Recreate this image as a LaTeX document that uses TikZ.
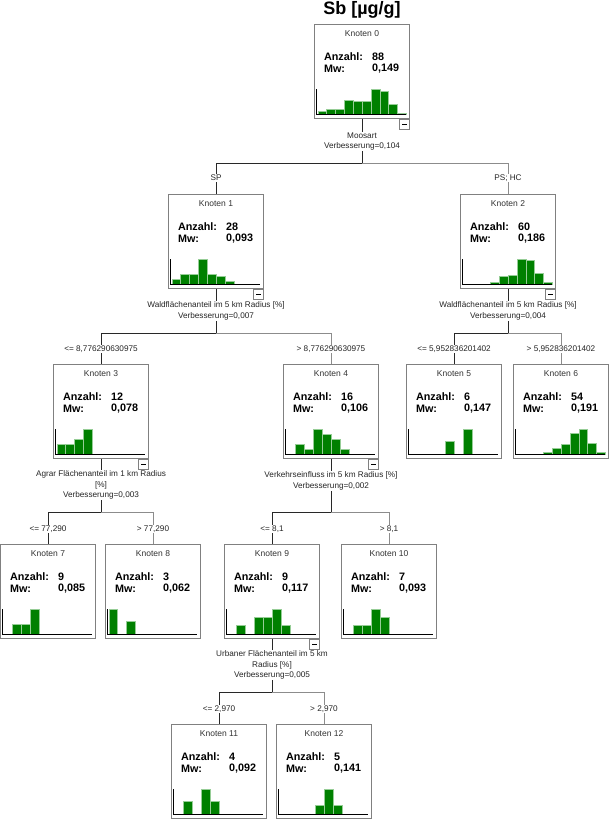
\documentclass[tikz,border=0pt]{standalone}
\usepackage{fontspec}
\setmainfont{Liberation Sans}
\usetikzlibrary{calc}
\definecolor{barfill}{RGB}{0,128,0}
\definecolor{baredge}{RGB}{150,205,150}
\definecolor{boxgray}{RGB}{128,128,128}
\definecolor{darkline}{RGB}{40,40,40}
\definecolor{lightline}{RGB}{140,140,140}
\tikzset{
 kbox/.style={draw=boxgray, line width=1.3pt, fill=white, minimum width=95pt, minimum height=94pt, inner sep=0pt, anchor=north},
 ktitle/.style={font=\fontsize{8.5}{10}\selectfont, text=black!80, inner sep=0pt},
 kbold/.style={font=\fontsize{10.8}{12}\selectfont\bfseries, inner sep=0pt, anchor=west},
 lbl/.style={font=\fontsize{8.2}{10.3}\selectfont, text=black!85, fill=white, inner sep=1pt, align=center},
 minusbox/.style={draw=boxgray, line width=0.9pt, fill=white, minimum size=10pt, inner sep=0pt, anchor=north east},
 axisline/.style={draw=black, line width=1pt},
 bar/.style={fill=barfill, draw=baredge, line width=0.5pt},
 lineL/.style={draw=darkline, line width=0.9pt},
 lineR/.style={draw=lightline, line width=0.9pt},
}
\newcommand{\knoten}[7]{%
  \node[kbox] (#1) at (#2,#3) {};
  \node[ktitle] (#1t) at ($(#1.north)+(0,10)$) {Knoten #4};
  \node[kbold] (#1a) at ($(#1.north west)+(10,33)$) {Anzahl:};
  \node[kbold] (#1n) at ($(#1.north west)+(58,33)$) {#5};
  \node[kbold] (#1m) at ($(#1.north west)+(10,45)$) {Mw:};
  \node[kbold] (#1v) at ($(#1.north west)+(58,45)$) {#6};
  \foreach \h [count=\i from 0] in {#7} {
    \ifdim\h pt>0pt
      \draw[bar] ($(#1.north west)+({4+\i*8.85},90)$) rectangle ++(8.85,-\h);
    \fi
  }
  \draw[axisline] ($(#1.north west)+(3,65)$) -- ($(#1.north west)+(3,90)$) -- ($(#1.north west)+(92,90)$);
}
\begin{document}
\begin{tikzpicture}[x=1pt,y=-1pt]
\useasboundingbox (0,0) rectangle (609,819);
\node[font=\fontsize{18}{20}\selectfont\bfseries, inner sep=0pt] (title) at (362,10) {Sb [µg/g]};

\knoten{k0}{362}{24}{0}{88}{0,149}{2.5,5,5,13.75,12.5,12.5,25,22.5,10,1.25}
\knoten{k1}{216}{194}{1}{28}{0,093}{5,10,10,25,10,7.5,2.5,0,0,0}
\knoten{k2}{508}{194}{2}{60}{0,186}{0,0,0,1.3,7.9,9.2,25,23.7,10.5,1.3}
\knoten{k3}{101}{364}{3}{12}{0,078}{10,10,15,25}
\knoten{k4}{331}{364}{4}{16}{0,106}{0,10,5,25,20,15,5}
\knoten{k5}{454}{364}{5}{6}{0,147}{0,0,0,0,12.5,0,25}
\knoten{k6}{561}{364}{6}{54}{0,191}{0,0,0,1.4,5.6,9.7,20.8,25,11.1,1.4}
\knoten{k7}{48}{544}{7}{9}{0,085}{0,10,10,25}
\knoten{k8}{153}{544}{8}{3}{0,062}{25,0,12.5}
\knoten{k9}{272}{544}{9}{9}{0,117}{0,8.3,0,16.7,16.7,25,8.3}
\knoten{k10}{389}{544}{10}{7}{0,093}{0,8.3,8.3,25,16.7}
\knoten{k11}{219}{724}{11}{4}{0,092}{0,12.5,0,25,12.5}
\knoten{k12}{324}{724}{12}{5}{0,141}{0,0,0,0,8.3,25,8.3}

\foreach \k in {k0,k1,k2,k3,k4,k9} {
  \node[minusbox] (\k x) at (\k.south east) {\rule{5pt}{0.9pt}};
}

\coordinate (s0) at (362,163);
\coordinate (s1) at (216,333);
\coordinate (s2) at (508,333);
\coordinate (s3) at (101,512);
\coordinate (s4) at (331,512);
\coordinate (s9) at (272,692);

\draw[lineL] (k0.south) -- (s0);
\draw[lineL] (s0) -| (k1.north);
\draw[lineR] (s0) -| (k2.north);
\draw[lineL] (k1.south) -- (s1);
\draw[lineL] (s1) -| (k3.north);
\draw[lineR] (s1) -| (k4.north);
\draw[lineL] (k2.south) -- (s2);
\draw[lineL] (s2) -| (k5.north);
\draw[lineR] (s2) -| (k6.north);
\draw[lineL] (k3.south) -- (s3);
\draw[lineL] (s3) -| (k7.north);
\draw[lineR] (s3) -| (k8.north);
\draw[lineL] (k4.south) -- (s4);
\draw[lineL] (s4) -| (k9.north);
\draw[lineR] (s4) -| (k10.north);
\draw[lineL] (k9.south) -- (s9);
\draw[lineL] (s9) -| (k11.north);
\draw[lineR] (s9) -| (k12.north);

\node[lbl] (v0) at (362,141.5) {Moosart\\Verbesserung=0,104};
\node[lbl] (v1) at (216,311) {Waldflächenanteil im 5 km Radius [\%]\\Verbesserung=0,007};
\node[lbl] (v2) at (508,311) {Waldflächenanteil im 5 km Radius [\%]\\Verbesserung=0,004};
\node[lbl] (v3) at (101,485) {Agrar Flächenanteil im 1 km Radius\\{[\%]}\\Verbesserung=0,003};
\node[lbl] (v4) at (331,481) {Verkehrseinfluss im 5 km Radius [\%]\\Verbesserung=0,002};
\node[lbl] (v9) at (272,665) {Urbaner Flächenanteil im 5 km\\Radius [\%]\\Verbesserung=0,005};

\node[lbl] (c1) at (216,178) {SP};
\node[lbl] (c2) at (508,178) {PS; HC};
\node[lbl] (c3) at (101,349) {<= 8,776290630975};
\node[lbl] (c4) at (331,349) {> 8,776290630975};
\node[lbl] (c5) at (454,349) {<= 5,952836201402};
\node[lbl] (c6) at (561,349) {> 5,952836201402};
\node[lbl] (c7) at (48,529) {<= 77,290};
\node[lbl] (c8) at (153,529) {> 77,290};
\node[lbl] (c9) at (272,529) {<= 8,1};
\node[lbl] (c10) at (389,529) {> 8,1};
\node[lbl] (c11) at (219,709) {<= 2,970};
\node[lbl] (c12) at (324,709) {> 2,970};
\end{tikzpicture}
\end{document}
